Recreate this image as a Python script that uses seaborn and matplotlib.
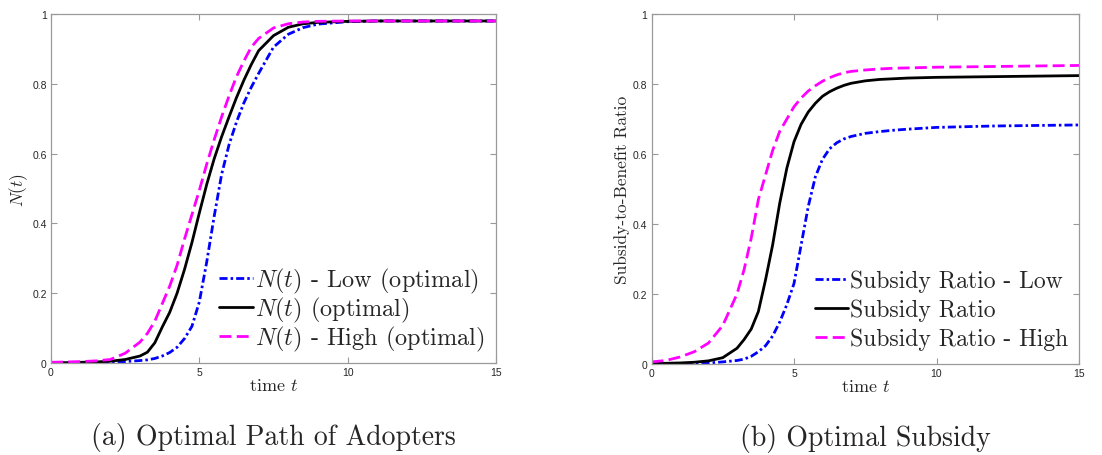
import numpy as np
import pandas as pd
import matplotlib
matplotlib.use("Agg")
import matplotlib.pyplot as plt
import seaborn as sns

# time grid shared by all series
t = [0, 0.5, 1, 1.5, 2, 2.5, 3, 3.25, 3.5, 3.75, 4, 4.25, 4.5, 4.75, 5, 5.25,
     5.5, 5.75, 6, 6.25, 6.5, 6.75, 7, 7.5, 8, 8.5, 9, 10, 11, 12, 13, 14, 15]

# (a) adopters N(t)
n_low = [0.0, 0.0005, 0.001, 0.0015, 0.002, 0.004, 0.007, 0.009, 0.013, 0.02,
         0.03, 0.045, 0.07, 0.105, 0.175, 0.29, 0.42, 0.54, 0.625, 0.69, 0.745,
         0.79, 0.83, 0.905, 0.942, 0.961, 0.971, 0.978, 0.98, 0.98, 0.98, 0.98, 0.98]
n_opt = [0.001, 0.001, 0.002, 0.003, 0.005, 0.010, 0.020, 0.031, 0.058, 0.103,
         0.145, 0.200, 0.268, 0.345, 0.43, 0.512, 0.585, 0.648, 0.705, 0.76, 0.81,
         0.855, 0.895, 0.938, 0.962, 0.972, 0.976, 0.979, 0.98, 0.98, 0.98, 0.98, 0.98]
n_high = [0.002, 0.003, 0.004, 0.006, 0.01, 0.028, 0.06, 0.085, 0.12, 0.17,
          0.22, 0.28, 0.355, 0.425, 0.495, 0.57, 0.64, 0.705, 0.765, 0.82, 0.865,
          0.905, 0.93, 0.96, 0.972, 0.977, 0.979, 0.98, 0.98, 0.98, 0.98, 0.98, 0.98]

# (b) subsidy-to-benefit ratio
s_low = [0.0, 0.0, 0.001, 0.002, 0.003, 0.006, 0.01, 0.014, 0.022, 0.035,
         0.052, 0.08, 0.12, 0.17, 0.23, 0.34, 0.45, 0.535, 0.585, 0.615, 0.632,
         0.643, 0.65, 0.659, 0.664, 0.668, 0.671, 0.676, 0.678, 0.68, 0.681, 0.682, 0.683]
s_opt = [0.002, 0.002, 0.003, 0.005, 0.009, 0.018, 0.045, 0.07, 0.1, 0.15,
         0.24, 0.34, 0.46, 0.56, 0.635, 0.685, 0.72, 0.745, 0.765, 0.778, 0.788,
         0.796, 0.802, 0.809, 0.813, 0.815, 0.817, 0.819, 0.82, 0.821, 0.822, 0.823, 0.824]
s_high = [0.006, 0.01, 0.02, 0.035, 0.06, 0.11, 0.2, 0.27, 0.36, 0.47,
          0.54, 0.61, 0.665, 0.7, 0.735, 0.76, 0.78, 0.795, 0.808, 0.818, 0.826,
          0.832, 0.836, 0.84, 0.843, 0.845, 0.846, 0.848, 0.849, 0.85, 0.851, 0.852, 0.853]

labels_a = [r"$N(t)$ - Low (optimal)", r"$N(t)$ (optimal)", r"$N(t)$ - High (optimal)"]
labels_b = ["Subsidy Ratio - Low", "Subsidy Ratio", "Subsidy Ratio - High"]
captions = ["(a) Optimal Path of Adopters", "(b) Optimal Subsidy"]
x_ticks = [0, 5, 10, 15]
y_ticks = [0, 0.2, 0.4, 0.6, 0.8, 1]
y_ticklabels = ["0", "0.2", "0.4", "0.6", "0.8", "1"]

sns.set_theme(style="white")
plt.rcParams["font.family"] = ["Liberation Sans", "DejaVu Sans"]
plt.rcParams["mathtext.fontset"] = "cm"

SERIF = "cmr10"
spine_col = "#9a9a9a"
colors = ["#0000ff", "#000000", "#ff00ff"]
dash_specs = [(2.9, 1.1, 0.9, 1.1), None, (4.3, 1.9)]

fig = plt.figure(figsize=(11.02, 4.56), dpi=100)
ax_a = fig.add_axes([51 / 1102, 1 - 364 / 456, 445 / 1102, 349 / 456])
ax_b = fig.add_axes([651.5 / 1102, 1 - 365 / 456, 427.5 / 1102, 350 / 456])


def draw(ax, series, labels, ylabel, caption, legend_anchor, leg_size, leg_space):
    for vals, lab, col, dsh in zip(series, labels, colors, dash_specs):
        df = pd.DataFrame({"t": t, "v": vals})
        sns.lineplot(data=df, x="t", y="v", ax=ax, color=col, linewidth=2.0,
                     label=lab, legend=False)
        line = ax.lines[-1]
        if dsh is not None:
            line.set_dashes(dsh)
    ax.set_xlim(0, 15)
    ax.set_ylim(0, 1)
    ax.set_xticks(x_ticks)
    ax.set_xticklabels([str(v) for v in x_ticks])
    ax.set_yticks(y_ticks)
    ax.set_yticklabels(y_ticklabels)
    ax.tick_params(direction="in", length=4, width=0.8, color=spine_col,
                   labelsize=7.5, labelcolor="#262626", pad=3,
                   top=True, right=True, bottom=True, left=True)
    for sp in ax.spines.values():
        sp.set_color(spine_col)
        sp.set_linewidth(0.9)
    ax.set_xlabel(r"time $t$", fontsize=13, family=SERIF, labelpad=0)
    ax.set_ylabel(ylabel, fontsize=12.5, family=SERIF, labelpad=2)
    ax.legend(loc="lower right", bbox_to_anchor=legend_anchor,
              frameon=False, prop={"family": SERIF, "size": leg_size},
              handlelength=1.4, handletextpad=0.1, labelspacing=leg_space,
              borderpad=0, borderaxespad=0)
    ax.text(0.5, -0.21, caption, transform=ax.transAxes, ha="center",
            va="center", fontsize=20, family=SERIF)


draw(ax_a, [n_low, n_opt, n_high], labels_a, r"$N(t)$", captions[0],
     (0.975, 0.028), 17.5, 0.0)
draw(ax_b, [s_low, s_opt, s_high], labels_b, "Subsidy-to-Benefit Ratio",
     captions[1], (0.975, 0.04), 17, 0.27)

fig.savefig("out.png", dpi=100)
